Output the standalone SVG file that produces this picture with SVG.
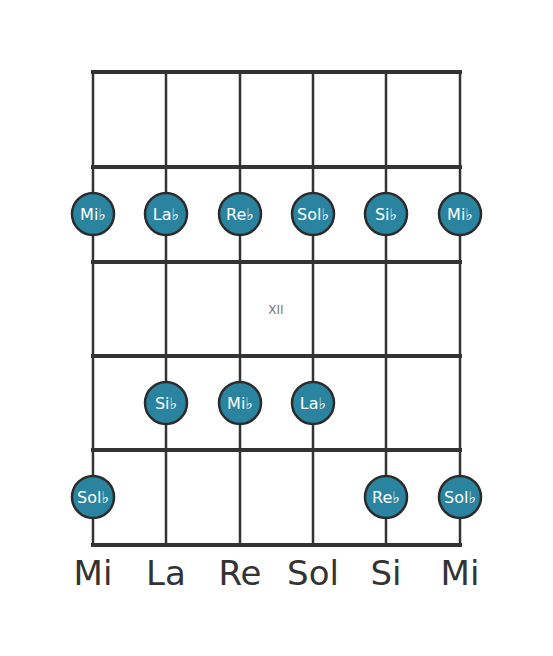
<svg xmlns="http://www.w3.org/2000/svg" width="553" height="656" viewBox="0 0 553 656">
<style>
.s{stroke:#333;stroke-width:2.5;fill:none}
.f{stroke:#333;stroke-width:4;fill:none}
.n circle{fill:#2a84a0;stroke:#2b2b2b;stroke-width:2.5}
.n text{fill:#fff;font-family:"DejaVu Sans",sans-serif;font-size:16px;text-anchor:middle}
.lb{fill:#333;font-family:"DejaVu Sans",sans-serif;font-size:34px;text-anchor:middle}
</style>
<rect width="553" height="656" fill="#fff"/>
<g id="connectors">
<line class="s" x1="93" y1="72" x2="93" y2="545"/>
<line class="s" x1="166" y1="72" x2="166" y2="545"/>
<line class="s" x1="240" y1="72" x2="240" y2="545"/>
<line class="s" x1="313" y1="72" x2="313" y2="545"/>
<line class="s" x1="386" y1="72" x2="386" y2="545"/>
<line class="s" x1="460" y1="72" x2="460" y2="545"/>
<line class="f" x1="91" y1="72" x2="462" y2="72" stroke-width="5"/>
<line class="f" x1="91" y1="167" x2="462" y2="167"/>
<line class="f" x1="91" y1="262" x2="462" y2="262"/>
<line class="f" x1="91" y1="356" x2="462" y2="356"/>
<line class="f" x1="91" y1="450" x2="462" y2="450"/>
<line class="f" x1="91" y1="545" x2="462" y2="545"/>
</g>
<text x="276" y="314" fill="#777" font-family="DejaVu Sans,sans-serif" font-size="12" text-anchor="middle">XII</text>
<g id="n1" class="n"><circle cx="93" cy="214" r="21"/><text x="93" y="220">Mi♭</text></g>
<g id="n2" class="n"><circle cx="166" cy="214" r="21"/><text x="166" y="220">La♭</text></g>
<g id="n3" class="n"><circle cx="240" cy="214" r="21"/><text x="240" y="220">Re♭</text></g>
<g id="n4" class="n"><circle cx="313" cy="214" r="21"/><text x="313" y="220">Sol♭</text></g>
<g id="n5" class="n"><circle cx="386" cy="214" r="21"/><text x="386" y="220">Si♭</text></g>
<g id="n6" class="n"><circle cx="460" cy="214" r="21"/><text x="460" y="220">Mi♭</text></g>
<g id="n7" class="n"><circle cx="166" cy="403" r="21"/><text x="166" y="409">Si♭</text></g>
<g id="n8" class="n"><circle cx="240" cy="403" r="21"/><text x="240" y="409">Mi♭</text></g>
<g id="n9" class="n"><circle cx="313" cy="403" r="21"/><text x="313" y="409">La♭</text></g>
<g id="n10" class="n"><circle cx="93" cy="497" r="21"/><text x="93" y="503">Sol♭</text></g>
<g id="n11" class="n"><circle cx="386" cy="497" r="21"/><text x="386" y="503">Re♭</text></g>
<g id="n12" class="n"><circle cx="460" cy="497" r="21"/><text x="460" y="503">Sol♭</text></g>
<g id="labels">
<text class="lb" x="93" y="585">Mi</text>
<text class="lb" x="166" y="585">La</text>
<text class="lb" x="240" y="585">Re</text>
<text class="lb" x="313" y="585">Sol</text>
<text class="lb" x="386" y="585">Si</text>
<text class="lb" x="460" y="585">Mi</text>
</g>
</svg>
